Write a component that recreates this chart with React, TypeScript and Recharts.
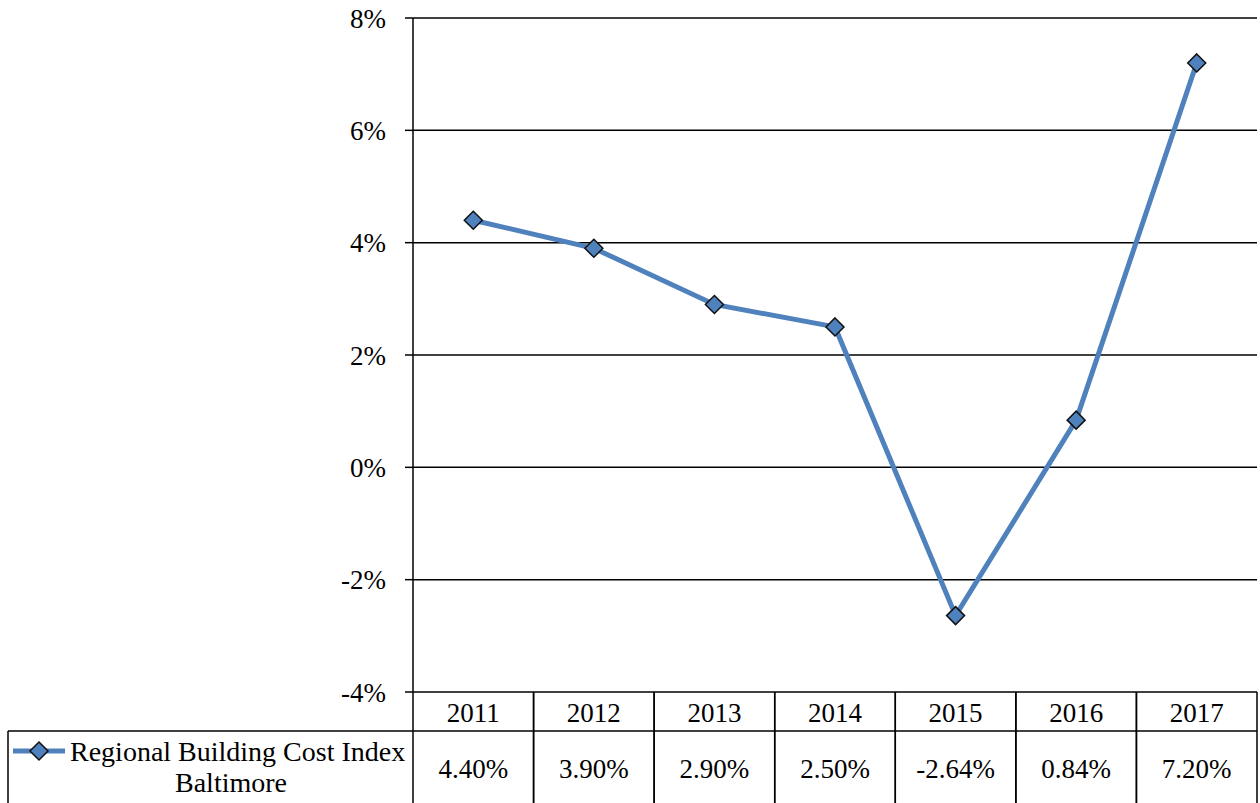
import { LineChart, Line, XAxis, YAxis, CartesianGrid } from "recharts";

const years = ["2011", "2012", "2013", "2014", "2015", "2016", "2017"];
const costIndex = [4.4, 3.9, 2.9, 2.5, -2.64, 0.84, 7.2];
const yTicks = [-4, -2, 0, 2, 4, 6, 8];
const seriesName = "Regional Building Cost Index";
const seriesName2 = "Baltimore";

const data = years.map((year, i) => ({ year, value: costIndex[i] }));

const FONT = "Liberation Serif";
const BLUE = "#4F81BD";
const PLOT_LEFT = 413;
const PLOT_RIGHT = 1257;
const PLOT_BOTTOM = 692;
const ROW_MID = 731;
const TABLE_BOTTOM = 803;
const CELL_W = (PLOT_RIGHT - PLOT_LEFT) / years.length;

const txt = { fontFamily: FONT, fontSize: 27 };
const legendTxt = { fontFamily: FONT, fontSize: 28 };

const Diamond = (props: any) => {
  const { cx, cy } = props;
  if (cx == null || cy == null) return null;
  const r = 9;
  return (
    <polygon
      points={`${cx},${cy - r} ${cx + r},${cy} ${cx},${cy + r} ${cx - r},${cy}`}
      fill={BLUE}
      stroke="#111"
      strokeWidth={1.5}
    />
  );
};

const TableCell = (props: any) => {
  const { x, index } = props;
  const left = x - CELL_W / 2;
  const right = x + CELL_W / 2;
  const v = costIndex[index];
  return (
    <g>
      <line x1={left} y1={PLOT_BOTTOM} x2={left} y2={TABLE_BOTTOM} stroke="#000" strokeWidth={1.5} />
      <line x1={right} y1={PLOT_BOTTOM} x2={right} y2={TABLE_BOTTOM} stroke="#000" strokeWidth={1.5} />
      <line x1={left} y1={ROW_MID} x2={right} y2={ROW_MID} stroke="#000" strokeWidth={1.5} />
      <text x={x} y={713} textAnchor="middle" dominantBaseline="central" style={txt} fill="#000">
        {years[index]}
      </text>
      <text x={x} y={769} textAnchor="middle" dominantBaseline="central" style={txt} fill="#000">
        {v.toFixed(2)}%
      </text>
      {index === 0 && (
        <g>
          <line x1={8} y1={ROW_MID} x2={left} y2={ROW_MID} stroke="#000" strokeWidth={1.5} />
          <line x1={8} y1={ROW_MID} x2={8} y2={TABLE_BOTTOM} stroke="#000" strokeWidth={1.5} />
          <line x1={13} y1={751} x2={65} y2={751} stroke={BLUE} strokeWidth={5} />
          <Diamond cx={39} cy={751} />
          <text x={70} y={751} dominantBaseline="central" style={legendTxt} fill="#000">
            {seriesName}
          </text>
          <text x={231} y={782} textAnchor="middle" dominantBaseline="central" style={legendTxt} fill="#000">
            {seriesName2}
          </text>
        </g>
      )}
    </g>
  );
};

export default function App() {
  return (
    <div style={{ position: "absolute", left: 0, top: 0, background: "#fff", fontFamily: FONT }}>
      <LineChart
        width={1260}
        height={803}
        data={data}
        style={{ fontFamily: FONT }}
        margin={{ top: 18, right: 1260 - PLOT_RIGHT, left: PLOT_LEFT - 60, bottom: 0 }}
      >
        <CartesianGrid vertical={false} stroke="#000" strokeWidth={1.5} />
        <XAxis
          dataKey="year"
          height={TABLE_BOTTOM - PLOT_BOTTOM}
          axisLine={false}
          tickLine={false}
          tickSize={0}
          padding={{ left: CELL_W / 2, right: CELL_W / 2 }}
          interval={0}
          tick={(p: any) => <TableCell {...p} />}
        />
        <YAxis
          width={60}
          domain={[-4, 8]}
          ticks={yTicks}
          interval={0}
          tickFormatter={(v: number) => `${v}%`}
          axisLine={{ stroke: "#000", strokeWidth: 1.5 }}
          tickLine={{ stroke: "#000", strokeWidth: 1.5 }}
          tickSize={8}
          tickMargin={19}
          tick={{ fontFamily: FONT, fontSize: 27, fill: "#000", style: txt }}
        />
        <Line
          dataKey="value"
          stroke={BLUE}
          strokeWidth={5}
          dot={(p: any) => <Diamond key={p.index} {...p} />}
          activeDot={false}
          isAnimationActive={false}
        />
      </LineChart>
    </div>
  );
}
